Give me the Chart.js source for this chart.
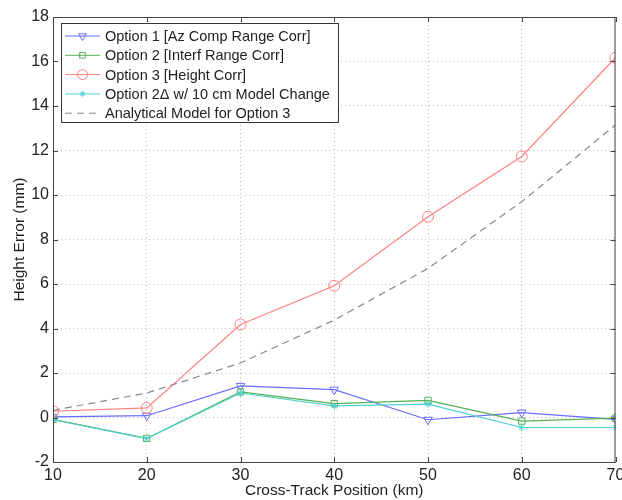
<!DOCTYPE html>
<html>
<head>
<meta charset="utf-8">
<script src="https://cdn.jsdelivr.net/npm/chart.js@4"></script>
<style>
  html, body { margin: 0; padding: 0; background: #fff; }
  #wrap { width: 622px; height: 500px; }
</style>
</head>
<body>
<div id="wrap"><canvas id="errChart" width="622" height="500"></canvas></div>
<script>
  // cross-track positions (km)
  const positions = [10, 20, 30, 40, 50, 60, 70];
  const option1 = [0.03, 0.08, 1.42, 1.25, -0.1, 0.22, -0.08];
  const option2 = [-0.08, -0.94, 1.15, 0.62, 0.77, -0.16, -0.03];
  const option3 = [0.28, 0.43, 4.18, 5.92, 9.02, 11.73, 16.17];
  const option2d = [-0.1, -0.95, 1.1, 0.52, 0.6, -0.45, -0.45];
  const analytical = [0.32, 1.1, 2.45, 4.38, 6.7, 9.7, 13.15];
  const yTicks = [-2, 0, 2, 4, 6, 8, 10, 12, 14, 16, 18];

  const toPts = (arr) => arr.map((v, i) => ({ x: positions[i], y: v }));
  const font = 'Liberation Sans, Arial, sans-serif';

  const series = [
    { label: 'Option 1 [Az Comp Range Corr]', data: option1, color: '#6b6bff', style: 'triangle', rot: 180, r: 5 },
    { label: 'Option 2 [Interf Range Corr]', data: option2, color: '#55b055', style: 'rect', rot: 0, r: 4.5 },
    { label: 'Option 3 [Height Corr]', data: option3, color: '#ff8080', style: 'circle', rot: 0, r: 5.5 },
    { label: 'Option 2\u0394 w/ 10 cm Model Change', data: option2d, color: '#4fd0d0', style: 'star', rot: 0, r: 3.5 },
    { label: 'Analytical Model for Option 3', data: analytical, color: '#888888', style: false, rot: 0, r: 0, dash: [7, 5] }
  ];

  // box around plot + inward tick marks + legend box (MATLAB look)
  const framePlugin = {
    id: 'frame',
    afterDatasetsDraw(chart) {
      const { ctx, chartArea: a, scales } = chart;
      ctx.save();
      ctx.strokeStyle = '#444';
      ctx.lineWidth = 1;
      ctx.strokeRect(a.left + 0.5, a.top + 0.5, a.right - a.left - 1, a.bottom - a.top);
      ctx.beginPath();
      yTicks.forEach(t => {
        const y = Math.round(scales.y.getPixelForValue(t)) + 0.5;
        ctx.moveTo(a.left, y); ctx.lineTo(a.left + 5, y);
        ctx.moveTo(a.right, y); ctx.lineTo(a.right - 5, y);
      });
      positions.forEach(p => {
        const x = Math.round(scales.x.getPixelForValue(p)) + 0.5;
        ctx.moveTo(x, a.bottom); ctx.lineTo(x, a.bottom - 5);
        ctx.moveTo(x, a.top); ctx.lineTo(x, a.top + 5);
      });
      ctx.stroke();

      // legend
      const bx = a.left + 8, by = a.top + 6, bw = 277, bh = 99;
      ctx.fillStyle = '#fff';
      ctx.fillRect(bx, by, bw, bh);
      ctx.strokeStyle = '#333';
      ctx.strokeRect(bx + 0.5, by + 0.5, bw, bh);
      ctx.font = '14.5px ' + font;
      ctx.textBaseline = 'middle';
      series.forEach((s, i) => {
        const y = by + 13 + i * 19.3;
        ctx.strokeStyle = s.color;
        ctx.lineWidth = 1;
        ctx.setLineDash(s.dash || []);
        ctx.beginPath();
        ctx.moveTo(bx + 4, y); ctx.lineTo(bx + 39, y);
        ctx.stroke();
        ctx.setLineDash([]);
        if (s.style) {
          ctx.fillStyle = 'rgba(0,0,0,0)';
          Chart.helpers.drawPoint(ctx, { pointStyle: s.style, radius: s.r - 0.5, rotation: s.rot, borderWidth: 1 }, bx + 21.5, y);
        }
        ctx.fillStyle = '#222';
        ctx.fillText(s.label, bx + 44, y + 1);
      });
      ctx.restore();
    }
  };

  const ctx = document.getElementById('errChart').getContext('2d');

  new Chart(ctx, {
    type: 'line',
    data: {
      datasets: series.map(s => ({
        label: s.label,
        data: toPts(s.data),
        borderColor: s.color,
        backgroundColor: 'rgba(0,0,0,0)',
        borderWidth: 1.2,
        borderDash: s.dash || [],
        pointStyle: s.style,
        pointRotation: s.rot,
        pointRadius: s.r,
        pointBorderWidth: 1,
        pointBorderColor: s.color,
        tension: 0
      })).reverse()
    },
    options: {
      responsive: false,
      animation: false,
      layout: { padding: { top: 17, right: 6, left: 0, bottom: 0 } },
      plugins: {
        legend: { display: false },
        tooltip: { enabled: false }
      },
      scales: {
        x: {
          type: 'linear',
          min: 10,
          max: 70,
          afterFit(scale) { scale.height = 38; scale.paddingRight = 0; scale.paddingLeft = 0; },
          afterBuildTicks(scale) { scale.ticks = positions.map(v => ({ value: v })); },
          ticks: { color: '#222', font: { family: font, size: 16 }, padding: 4, maxRotation: 0 },
          grid: { color: '#bbb', drawTicks: false },
          border: { display: false, dash: [1, 3] },
          title: { display: true, text: 'Cross-Track Position (km)', color: '#222', font: { family: font, size: 15.5 }, padding: { top: 0, bottom: 0 } }
        },
        y: {
          min: -2,
          max: 18,
          afterFit(scale) { scale.width = 53; },
          afterBuildTicks(scale) { scale.ticks = yTicks.map(v => ({ value: v })); },
          ticks: { color: '#222', font: { family: font, size: 16 }, padding: 4 },
          grid: { color: '#bbb', drawTicks: false },
          border: { display: false, dash: [1, 3] },
          title: { display: true, text: 'Height Error (mm)', color: '#222', font: { family: font, size: 15.5 }, padding: { top: 10, bottom: 0 } }
        }
      }
    },
    plugins: [framePlugin]
  });
</script>
</body>
</html>
